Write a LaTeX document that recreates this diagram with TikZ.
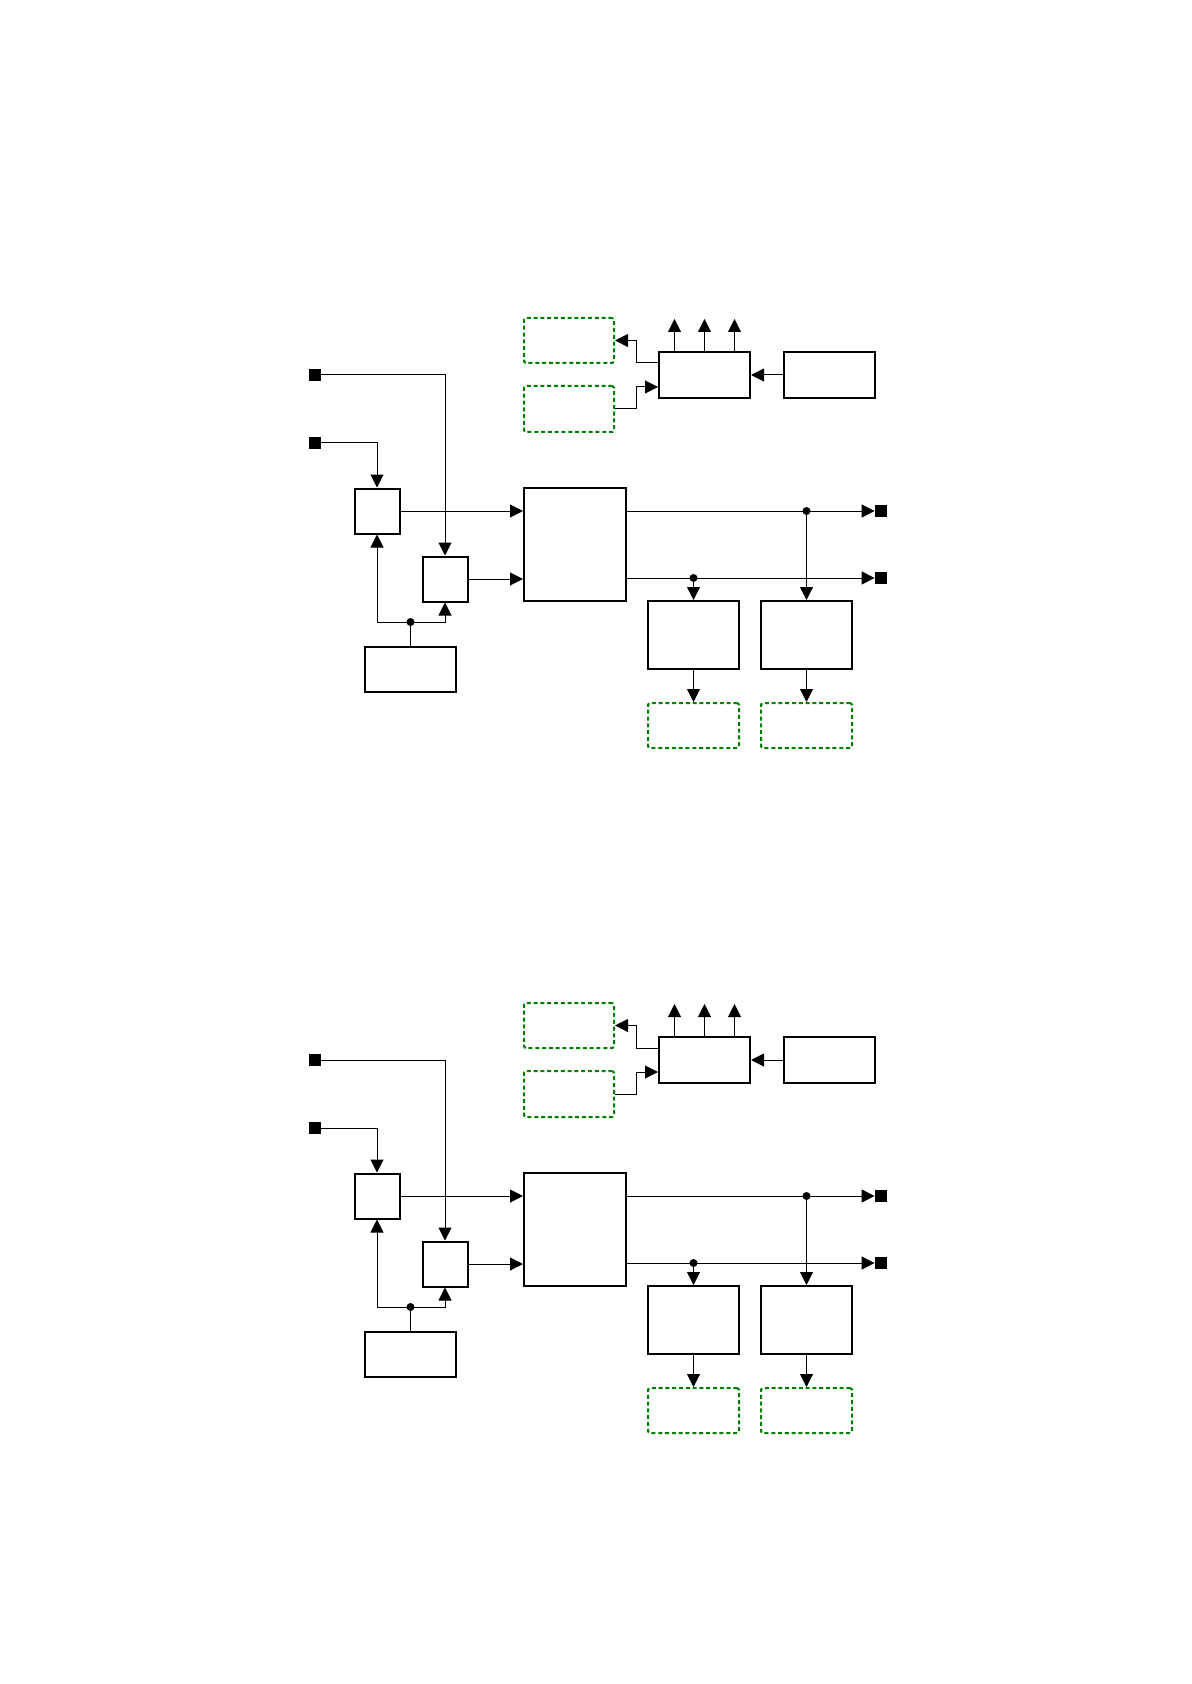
\documentclass[tikz,border=0pt]{standalone}
\usepackage{xcolor}
\usepackage{tikz}
\usetikzlibrary{calc,positioning,arrows.meta}

\definecolor{dashgreen}{RGB}{0,128,0}
\tikzset{
  blk/.style={draw, line width=1pt, inner sep=0pt, minimum width=45.5pt, minimum height=22.5pt},
  gbox/.style={blk, draw=dashgreen, dash pattern=on 2pt off 1.4pt, rounded corners=0.8pt},
  port/.style={fill=black, inner sep=0pt, minimum size=6pt},
  wire/.style={line width=0.5pt},
  conn/.style={wire, -{Triangle[length=6.5pt,width=6.5pt]}}
}

\begin{document}
\begin{tikzpicture}[x=0.5pt, y=-0.5pt]
\useasboundingbox (0,0) rectangle (1191,1684);
% the same block diagram twice, one under the other
\foreach \i/\dy in {1/0, 2/685}{
\begin{scope}[shift={(0,\dy)}]
  % input side
  \node[port] (in1\i) at (315,375) {};
  \node[port] (in2\i) at (315,443) {};
  \node[blk, minimum width=22.5pt] (A\i) at (377,511) {};
  \node[blk, minimum width=22.5pt] (B\i) at (445,579) {};
  \node[blk] (C\i) at (410.5,669.5) {};
  \node[blk, minimum width=51pt, minimum height=56.5pt] (M\i) at (575,544.5) {};
  % top row
  \node[gbox, minimum width=45pt] (G1\i) at (569,340.5) {};
  \node[gbox, minimum width=45pt, minimum height=23pt] (G2\i) at (569,409) {};
  \node[blk, minimum height=23pt] (D\i) at (704.5,375) {};
  \node[blk, minimum height=23pt] (E\i) at (829.5,375) {};
  % output side
  \node[port] (out1\i) at (881,511) {};
  \node[port] (out2\i) at (881,578) {};
  \node[blk, minimum height=34pt] (G\i) at (693.5,635) {};
  \node[blk, minimum height=34pt] (F\i) at (806.5,635) {};
  \node[gbox] (Gg\i) at (693.5,725.5) {};
  \node[gbox] (Fg\i) at (806.5,725.5) {};

  \coordinate (j\i) at ([yshift=12pt]C\i.north);
  \coordinate (d1\i) at (F\i.north |- out1\i);
  \coordinate (d2\i) at (G\i.north |- out2\i);
  \coordinate (k1\i) at ($(G1\i.east)!0.5!(D\i.west)$);
  \coordinate (k2\i) at ($(G2\i.east)!0.5!(D\i.west)$);

  % connectors
  \draw[conn] (in1\i) -| (B\i.north);
  \draw[conn] (in2\i) -| (A\i.north);
  \draw[wire] (C\i.north) -- (j\i);
  \draw[conn] (j\i) -| (A\i.south);
  \draw[conn] (j\i) -| (B\i.south);
  \draw[conn] (A\i.east) -- (A\i.east -| M\i.west);
  \draw[conn] (B\i.east) -- (B\i.east -| M\i.west);
  \draw[conn] (M\i.east |- out1\i) -- (out1\i);
  \draw[conn] (M\i.east |- out2\i) -- (out2\i);
  \draw[conn] (d1\i) -- (F\i.north);
  \draw[conn] (d2\i) -- (G\i.north);
  \draw[conn] (G\i.south) -- (Gg\i.north);
  \draw[conn] (F\i.south) -- (Fg\i.north);
  \draw[conn] (E\i.west) -- (D\i.east);
  \draw[conn] ([yshift=6pt]D\i.west) -| (k1\i) |- (G1\i.east);
  \draw[conn] (G2\i.east) -| (k2\i) |- ([yshift=-6pt]D\i.west);
  \foreach \o in {-1,0,1}{
    \draw[conn] ([xshift=\o*15pt]D\i.north) -- ++(0,-32);
  }
  % junction dots
  \foreach \p in {j\i, d1\i, d2\i}{
    \fill (\p) circle (2pt);
  }
\end{scope}
}
\end{tikzpicture}
\end{document}
